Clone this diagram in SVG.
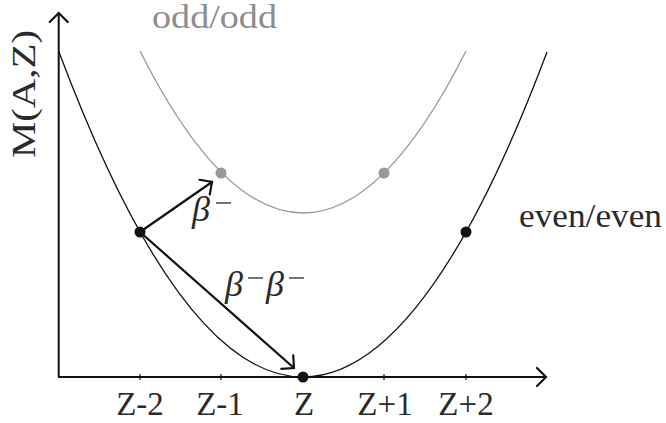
<svg xmlns="http://www.w3.org/2000/svg" width="666" height="423" viewBox="0 0 666 423">
<style>
.axis{stroke:#111;stroke-width:2;fill:none}
.curve{fill:none;stroke-width:1.3}
.lbl{font-family:"Liberation Serif","Times New Roman",serif;font-size:33px;fill:#2a2a2a}
.gr{fill:#8e8e8e}
.beta{font-family:"Liberation Serif","Times New Roman",serif;font-style:italic;font-size:36px;fill:#2a2a2a}
.arr{stroke:#111;stroke-width:2.2;fill:none}
</style>
<defs>
<marker id="chev" markerUnits="userSpaceOnUse" overflow="visible" orient="auto" refX="0" refY="0" markerWidth="20" markerHeight="20">
<path d="M-9,-9 L0,0 L-9,9" fill="none" stroke="#111" stroke-width="2.2" stroke-linecap="round" stroke-linejoin="miter"/>
</marker>
</defs>
<g id="axes">
<line class="axis" x1="58.7" y1="377" x2="58.7" y2="13" marker-end="url(#chev)"/>
<line class="axis" x1="58" y1="377" x2="546" y2="377" marker-end="url(#chev)"/>
<g stroke="#111" stroke-width="1.2">
<line x1="140" y1="374" x2="140" y2="380"/>
<line x1="221" y1="374" x2="221" y2="380"/>
<line x1="384" y1="374" x2="384" y2="380"/>
<line x1="466" y1="374" x2="466" y2="380"/>
</g>
<text class="lbl" transform="translate(35,94) rotate(-90)" text-anchor="middle" textLength="128" lengthAdjust="spacingAndGlyphs">M(A,Z)</text>
<text class="lbl" x="140" y="415" text-anchor="middle">Z-2</text>
<text class="lbl" x="220" y="415" text-anchor="middle">Z-1</text>
<text class="lbl" x="304" y="415" text-anchor="middle">Z</text>
<text class="lbl" x="385" y="415" text-anchor="middle">Z+1</text>
<text class="lbl" x="466" y="415" text-anchor="middle">Z+2</text>
</g>
<g id="even-even">
<path class="curve" stroke="#111" d="M59,52 Q303,702 547,52"/>
<text class="lbl" x="519" y="227" textLength="143" lengthAdjust="spacingAndGlyphs">even/even</text>
</g>
<g id="odd-odd">
<path class="curve" stroke="#999" d="M140,51 Q303,375 466,51"/>
<text class="lbl gr" x="152" y="28" textLength="125" lengthAdjust="spacingAndGlyphs">odd/odd</text>
</g>
<g id="connectors">
<line class="arr" x1="140" y1="232" x2="212" y2="182" marker-end="url(#chev)"/>
<line class="arr" x1="140" y1="232" x2="294" y2="368" marker-end="url(#chev)"/>
<text class="beta" x="192" y="221">β</text>
<line x1="216" y1="203" x2="231" y2="203" stroke="#2a2a2a" stroke-width="1.3"/>
<text class="beta" x="225" y="296">β</text>
<line x1="248" y1="278" x2="263" y2="278" stroke="#2a2a2a" stroke-width="1.3"/>
<text class="beta" x="266" y="296">β</text>
<line x1="289" y1="278" x2="304" y2="278" stroke="#2a2a2a" stroke-width="1.3"/>
</g>
<g id="n-zm1"><circle cx="221" cy="173" r="5.5" fill="#999"/></g>
<g id="n-zp1"><circle cx="384" cy="173" r="5.5" fill="#999"/></g>
<g id="n-zm2"><circle cx="140" cy="232" r="5.5" fill="#111"/></g>
<g id="n-zp2"><circle cx="466" cy="232" r="5.5" fill="#111"/></g>
<g id="n-z"><circle cx="303" cy="377" r="5.5" fill="#111"/></g>
</svg>
